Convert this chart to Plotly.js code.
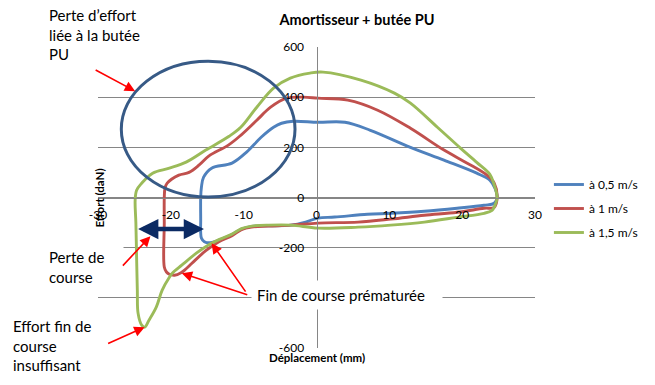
<!DOCTYPE html>
<html>
<head>
<meta charset="utf-8">
<script src="https://cdn.plot.ly/plotly-3.0.1.min.js"></script>
<style>html,body{margin:0;padding:0;background:#fff}#chart{width:655px;height:385px}</style>
</head>
<body>
<div id="chart"></div>
<script>
// Series names
const seriesNames = ["à 0,5 m/s", "à 1 m/s", "à 1,5 m/s"];
const seriesColors = ["#4F81BD", "#C0504D", "#9BBB59"];

// à 0,5 m/s  (déplacement mm, effort daN)
const blueX = [-15.9,-15.9,-15.8,-15.5,-14.4,-11.6,-9.6,-7.6,-5.9,-4.8,-3.2,0.2,3.9,7.4,12.9,17.5,22.0,23.8,24.5,24.8,24.4,23.0,19.3,14.8,10.2,7.0,2.5,0.2,-1.5,-3.5,-6.6,-8.9,-10.3,-11.6,-13.4,-14.6,-15.4,-15.8,-15.9,-15.9];
const blueY = [-90,0,41,81,117,137,181,240,280,296,304,300,300,268,200,149,97,69,37,0,-23,-31,-43,-55,-63,-67,-78,-82,-98,-110,-113,-115,-126,-148,-170,-180,-176,-162,-140,-90];

// à 1 m/s
const redX = [-20.9,-20.9,-20.8,-20.5,-18.9,-17.5,-16.1,-14.8,-12.1,-10.4,-8.2,-6.3,-4.1,-1.8,0.2,4.3,8.4,12.9,17.5,20.7,23.4,24.4,24.8,24.4,23.0,19.3,14.8,10.2,5.7,0.2,-3.5,-6.6,-8.9,-10.3,-11.6,-13.4,-15.2,-17.1,-17.9,-18.6,-19.5,-20.2,-20.6,-20.9,-20.9];
const redY = [-100,0,37,57,89,100,130,165,209,248,308,360,396,400,396,388,348,276,189,137,89,57,0,-39,-43,-59,-71,-86,-98,-102,-110,-114,-118,-128,-152,-176,-212,-262,-284,-300,-310,-306,-297,-277,-100];

// à 1,5 m/s
const greenX = [-24.8,-24.9,-24.7,-24.0,-22.5,-20.2,-17.9,-15.2,-12.0,-10.4,-8.2,-5.9,-3.6,-0.9,0.9,6.1,10.7,12.9,16.6,19.8,22.0,23.8,24.4,24.8,24.5,24.1,23.0,19.3,14.8,10.2,5.7,0.2,-3.5,-6.6,-8.9,-10.3,-11.6,-13.4,-15.0,-16.5,-18.5,-19.8,-20.2,-21.2,-22.0,-23.0,-23.6,-24.0,-24.5,-24.6,-24.7,-24.8];
const greenY = [-100,-11,29,57,97,117,141,189,244,280,360,436,476,496,500,468,416,376,280,196,140,92,50,0,-31,-51,-63,-79,-98,-110,-118,-122,-110,-110,-114,-124,-146,-168,-192,-222,-270,-302,-318,-370,-437,-489,-517,-509,-461,-370,-238,-100];

const xTicks = [-30,-20,-10,0,10,20,30];
const yTicks = [-600,-400,-200,0,200,400,600];
// the -400 label is hidden behind the "Fin de course prématurée" box in the reference
const yTickText = ["-600","","-200","0","200","400","600"];

const FONT = "Lato, 'Open Sans', sans-serif";
const L = 98, R = 538, T = 47, B = 348;
const px = v => (v - L) / (R - L);
const py = v => (B - v) / (B - T);

const xs = [blueX, redX, greenX], ys = [blueY, redY, greenY];
const traces = seriesNames.map((n, i) => ({
  type: "scatter", mode: "lines", name: n, x: xs[i], y: ys[i],
  line: {color: seriesColors[i], width: 2.9, shape: "spline", smoothing: 1.0},
  legendgroup: "g" + i, hoverinfo: "skip"
}));

const red = "#FF0000";
function redArrow(hx, hy, ax, ay) {
  return {x: hx, y: hy, xref: "x", yref: "y", ax: ax, ay: ay, text: "", showarrow: true,
    arrowhead: 2, arrowsize: 1.3, arrowwidth: 1.6, arrowcolor: red, standoff: 0};
}
function note(text, x, y, w, pad) {
  return {text: text, x: px(x), y: py(y), xref: "paper", yref: "paper", xanchor: "left", yanchor: "middle",
    align: "left", showarrow: false, bgcolor: "#ffffff", borderpad: pad || 2, width: w,
    font: {family: FONT, size: 15, color: "#000"}};
}

const annotations = [
  note("Perte d’effort<br>liée à la butée<br>PU", 46, 35, 102, 2),
  note("Perte de<br>course", 46, 267, 72, 2),
  note("Effort fin de<br>course<br>insuffisant", 10, 345, 84, 1),
  note("Fin de course prématurée", 252, 295, 180, 5),
  redArrow(-24.9, 424, -41, -22),
  redArrow(-22.8, -154, -29, 31),
  redArrow(-23.6, -517, -38, 17),
  redArrow(-18.5, -302, 67, 22),
  redArrow(-14.4, -182, 35, 50),
  {x: -15.45, y: -126, ax: -24.7, ay: -126, xref: "x", yref: "y", axref: "x", ayref: "y", text: "",
   showarrow: true, arrowside: "end+start", arrowhead: 2, arrowsize: 0.9, arrowwidth: 4.5,
   arrowcolor: "#0B2A63", standoff: 0, startstandoff: 0},
  {text: "<b>Effort (daN)</b>", x: px(90), y: py(198), xref: "paper", yref: "paper", textangle: -90,
   showarrow: false, font: {family: FONT, size: 11.5, color: "#000"}},
  {text: "<b>Déplacement (mm)</b>", x: px(318), y: py(366), xref: "paper", yref: "paper",
   showarrow: false, font: {family: FONT, size: 11.5, color: "#000"}}
];

const layout = {
  width: 655, height: 385,
  margin: {l: L, r: 655 - R, t: T, b: 385 - B, pad: 0},
  paper_bgcolor: "#fff", plot_bgcolor: "#fff",
  font: {family: FONT, size: 12, color: "#000"},
  title: {text: "<b>Amortisseur + butée PU</b>", x: 357 / 655, xref: "container", xanchor: "center",
          y: 1 - 20 / 385, yref: "container", yanchor: "middle", font: {family: FONT, size: 14.5, color: "#000"}},
  xaxis: {range: [-30, 30], tickvals: xTicks, ticktext: xTicks.map(String), showgrid: false, zeroline: false,
          showline: true, linecolor: "#868686", linewidth: 1, anchor: "free", position: 0.5,
          ticks: "", ticklabelstandoff: 6, tickfont: {family: FONT, size: 12, color: "#000"}, fixedrange: true},
  yaxis: {range: [-600, 600], tickvals: yTicks, ticktext: yTickText, showgrid: true, gridcolor: "#868686",
          gridwidth: 1, zeroline: false, showline: true, linecolor: "#868686", linewidth: 1,
          anchor: "free", position: 0.5, ticks: "", ticklabelstandoff: 10,
          tickfont: {family: FONT, size: 12, color: "#000"}, fixedrange: true},
  showlegend: true,
  legend: {x: px(552), xanchor: "left", y: py(170), yanchor: "top", tracegroupgap: 5,
           font: {family: FONT, size: 12, color: "#000"}, bgcolor: "rgba(0,0,0,0)"},
  shapes: [{type: "circle", xref: "x", yref: "y", x0: -26.8, x1: -2.95, y0: 2, y1: 543,
            line: {color: "#375A86", width: 3}, layer: "above"}],
  annotations: annotations
};

Plotly.newPlot("chart", traces, layout, {displayModeBar: false, staticPlot: true});
</script>
</body>
</html>
